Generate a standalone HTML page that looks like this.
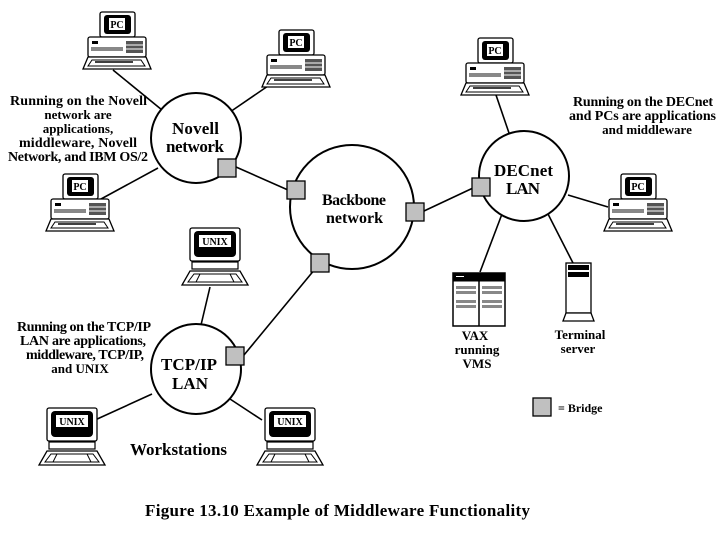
<!DOCTYPE html>
<html><head><style>
body{margin:0;background:#fff;}
svg{display:block;}
text{font-family:"Liberation Serif",serif;font-weight:bold;}
</style></head><body>
<svg width="720" height="540" viewBox="0 0 720 540" xmlns="http://www.w3.org/2000/svg">
<defs>
<g id="pc">
<rect x="17" y="0" width="35" height="25" rx="2" fill="#fff" stroke="#000" stroke-width="1.3"/>
<rect x="21" y="3" width="27" height="19" rx="3" fill="#000"/>
<rect x="26" y="6" width="16" height="12" fill="#fff"/>
<text x="34" y="16" font-size="10" text-anchor="middle">PC</text>
<rect x="5" y="25" width="58" height="20" rx="2" fill="#fff" stroke="#000" stroke-width="1.3"/>
<rect x="9" y="29" width="6" height="3" fill="#000"/>
<rect x="8" y="35" width="32" height="4" fill="#888"/>
<rect x="43" y="29" width="17" height="12" fill="#555"/>
<line x1="43" y1="33" x2="60" y2="33" stroke="#fff"/>
<line x1="43" y1="37" x2="60" y2="37" stroke="#fff"/>
<polygon points="5,45 63,45 68,57 0,57" fill="#fff" stroke="#000" stroke-width="1.3"/>
<polygon points="9,48 58,48 62,54 5,54" fill="none" stroke="#000" stroke-width="1"/>
<line x1="12" y1="50" x2="50" y2="50" stroke="#000" stroke-width="1.5"/>
</g>
<g id="unix">
<rect x="8" y="0" width="50" height="33" rx="2" fill="#fff" stroke="#000" stroke-width="1.3"/>
<rect x="12" y="3" width="42" height="26" rx="4" fill="#000"/>
<rect x="17" y="7" width="32" height="12" fill="#fff"/>
<text x="33" y="17" font-size="10" text-anchor="middle">UNIX</text>
<rect x="10" y="34" width="46" height="7" fill="#fff" stroke="#000" stroke-width="1.2"/>
<polygon points="8,43 58,43 66,57 0,57" fill="#fff" stroke="#000" stroke-width="1.3"/>
<polygon points="12,46 54,46 60,54 6,54" fill="none" stroke="#000" stroke-width="1"/>
<line x1="18" y1="46" x2="14" y2="54" stroke="#000"/>
<line x1="48" y1="46" x2="52" y2="54" stroke="#000"/>
</g>
</defs>
<g stroke="#000" stroke-width="1.6" fill="none">
<line x1="113" y1="70" x2="162" y2="110"/>
<line x1="268" y1="86" x2="230" y2="112"/>
<line x1="90" y1="205" x2="158" y2="168"/>
<line x1="236" y1="167" x2="288" y2="190"/>
<line x1="320" y1="263" x2="244" y2="355"/>
<line x1="210" y1="287" x2="201" y2="325"/>
<line x1="95" y1="420" x2="152" y2="394"/>
<line x1="230" y1="399" x2="262" y2="420"/>
<line x1="424" y1="211" x2="473" y2="188"/>
<line x1="496" y1="95" x2="509" y2="133"/>
<line x1="568" y1="195" x2="608" y2="207"/>
<line x1="502" y1="214" x2="480" y2="272"/>
<line x1="548" y1="214" x2="573" y2="263"/>
</g>
<g stroke="#000" stroke-width="2" fill="#fff">
<circle cx="196" cy="138" r="45"/>
<circle cx="352" cy="207" r="62"/>
<circle cx="524" cy="176" r="45"/>
<circle cx="196" cy="369" r="45"/>
</g>
<g fill="#c0c0c0" stroke="#000" stroke-width="1.3">
<rect x="218" y="159" width="18" height="18"/>
<rect x="287" y="181" width="18" height="18"/>
<rect x="311" y="254" width="18" height="18"/>
<rect x="226" y="347" width="18" height="18"/>
<rect x="406" y="203" width="18" height="18"/>
<rect x="472" y="178" width="18" height="18"/>
<rect x="533" y="398" width="18" height="18"/>
</g>
<use href="#pc" x="83" y="12"/>
<use href="#pc" x="262" y="30"/>
<use href="#pc" x="46" y="174"/>
<use href="#pc" x="461" y="38"/>
<use href="#pc" x="604" y="174"/>
<use href="#unix" x="182" y="228"/>
<use href="#unix" x="39" y="408"/>
<use href="#unix" x="257" y="408"/>
<g stroke="#000" fill="#fff">
<rect x="453" y="273" width="52" height="53" stroke-width="1.5"/>
<rect x="453" y="273" width="52" height="8" fill="#000"/>
<line x1="479" y1="281" x2="479" y2="326" stroke-width="1.5"/>
</g>
<g fill="#888">
<rect x="456" y="286" width="20" height="3"/><rect x="482" y="286" width="20" height="3"/>
<rect x="456" y="291" width="20" height="3"/><rect x="482" y="291" width="20" height="3"/>
<rect x="456" y="300" width="20" height="3"/><rect x="482" y="300" width="20" height="3"/>
<rect x="456" y="305" width="20" height="3"/><rect x="482" y="305" width="20" height="3"/>
</g>
<rect x="456" y="276" width="8" height="1" fill="#fff"/>
<g stroke="#000" stroke-width="1.3" fill="#fff">
<rect x="566" y="263" width="25" height="50"/>
<polygon points="566,313 591,313 594,321 563,321"/>
</g>
<rect x="568" y="265" width="21" height="5" fill="#000"/>
<rect x="568" y="272" width="21" height="5" fill="#000"/>
<g font-size="14" fill="#000" lengthAdjust="spacingAndGlyphs">
<text x="172" y="134" font-size="17" textLength="47">Novell</text>
<text x="166" y="152" font-size="17" textLength="58">network</text>
<text x="322" y="205" font-size="16" textLength="64">Backbone</text>
<text x="326" y="223" font-size="16" textLength="57">network</text>
<text x="494" y="176" font-size="17" textLength="59">DECnet</text>
<text x="506" y="194" font-size="17" textLength="34">LAN</text>
<text x="161" y="370" font-size="17" textLength="56">TCP/IP</text>
<text x="172" y="389" font-size="17" textLength="36">LAN</text>
<text x="10" y="105" textLength="137">Running on the Novell</text>
<text x="78" y="119" font-size="13" text-anchor="middle">network are</text>
<text x="78" y="133" font-size="13" text-anchor="middle">applications,</text>
<text x="19" y="147" textLength="118">middleware, Novell</text>
<text x="8" y="161" textLength="140">Network, and IBM OS/2</text>
<text x="573" y="106" textLength="140">Running on the DECnet</text>
<text x="569" y="120" textLength="147">and PCs are applications</text>
<text x="647" y="134" font-size="13" text-anchor="middle">and middleware</text>
<text x="17" y="331" textLength="134">Running on the TCP/IP</text>
<text x="20" y="345" textLength="126">LAN are applications,</text>
<text x="26" y="359" textLength="118">middleware, TCP/IP,</text>
<text x="80" y="373" font-size="13" text-anchor="middle">and UNIX</text>
<text x="130" y="455" font-size="17" textLength="97">Workstations</text>
<text x="475" y="340" font-size="13" text-anchor="middle">VAX</text>
<text x="477" y="354" font-size="13" text-anchor="middle">running</text>
<text x="477" y="368" font-size="13" text-anchor="middle">VMS</text>
<text x="580" y="339" font-size="13" text-anchor="middle">Terminal</text>
<text x="578" y="353" font-size="13" text-anchor="middle">server</text>
<text x="145" y="516" font-size="17" textLength="385">Figure 13.10  Example of Middleware Functionality</text>
<text x="558" y="412" font-size="12">= Bridge</text>
</g>
</svg>
</body></html>
